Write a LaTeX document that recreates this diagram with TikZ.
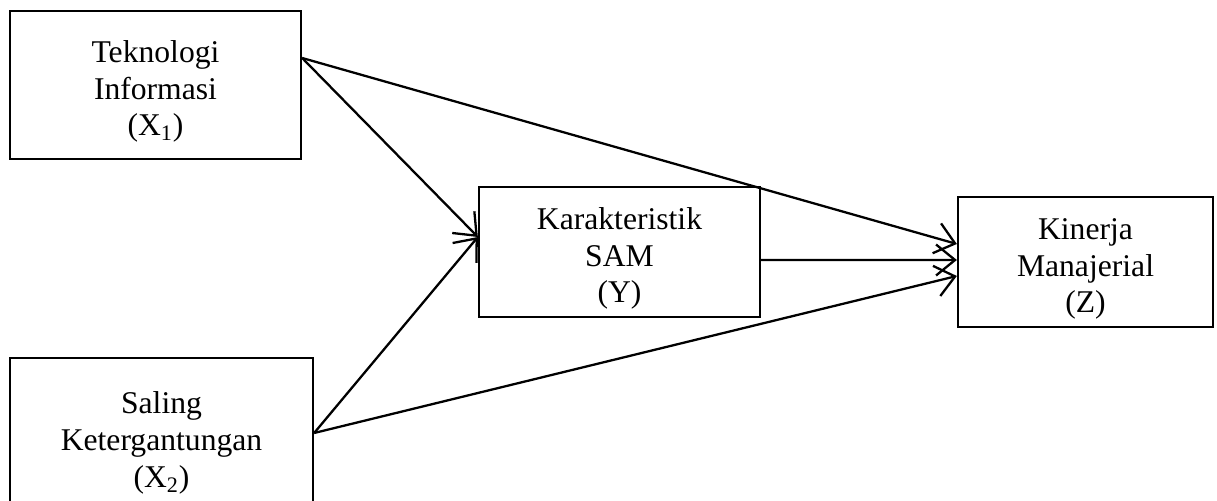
\documentclass[tikz,border=0pt]{standalone}
\usepackage{fontspec}
\setmainfont{Liberation Serif}
\usetikzlibrary{arrows.meta}

\begin{document}
\begin{tikzpicture}[
	kasten/.style={draw, line width=1.3pt, align=center, inner sep=0pt, text height=2.04cm, text depth=0pt, font=\fontsize{18}{21}\selectfont},
	pfeil/.style={line width=1.3pt, -{Straight Barb[length=0.38cm, width=0.62cm]}}
]
		%Rand vom Bild
		\clip (0,0) rectangle (24.34,10.02);
		
		%Kasten links
		\node[kasten, minimum width=5.82cm, minimum height=2.96cm] (tekno) at (3.11,8.32) {Teknologi\\Informasi\\(X\textsubscript{1})};
		\node[kasten, minimum width=6.06cm, minimum height=3.14cm] (saling) at (3.23,1.29) {Saling\\Ketergantungan\\(X\textsubscript{2})};
		
		%Kasten Mitte und rechts
		\node[kasten, minimum width=5.62cm, minimum height=2.6cm] (sam) at (12.39,4.98) {Karakteristik\\SAM\\(Y)};
		\node[kasten, minimum width=5.1cm, minimum height=2.6cm] (kinerja) at (21.71,4.78) {Kinerja\\Manajerial\\(Z)};
		
		%Pfeile zu Y
		\draw[pfeil] ([yshift=0.54cm]tekno.east) -- ([yshift=0.3cm]sam.west);
		\draw[pfeil] ([yshift=0.07cm]saling.east) -- ([yshift=0.3cm]sam.west);
		
		%Pfeile zu Z
		\draw[pfeil] ([yshift=0.54cm]tekno.east) -- ([yshift=0.36cm]kinerja.west);
		\draw[pfeil] ([yshift=-0.16cm]sam.east) -- ([yshift=0.04cm]kinerja.west);
		\draw[pfeil] ([yshift=0.07cm]saling.east) -- ([yshift=-0.28cm]kinerja.west);
\end{tikzpicture}
\end{document}
